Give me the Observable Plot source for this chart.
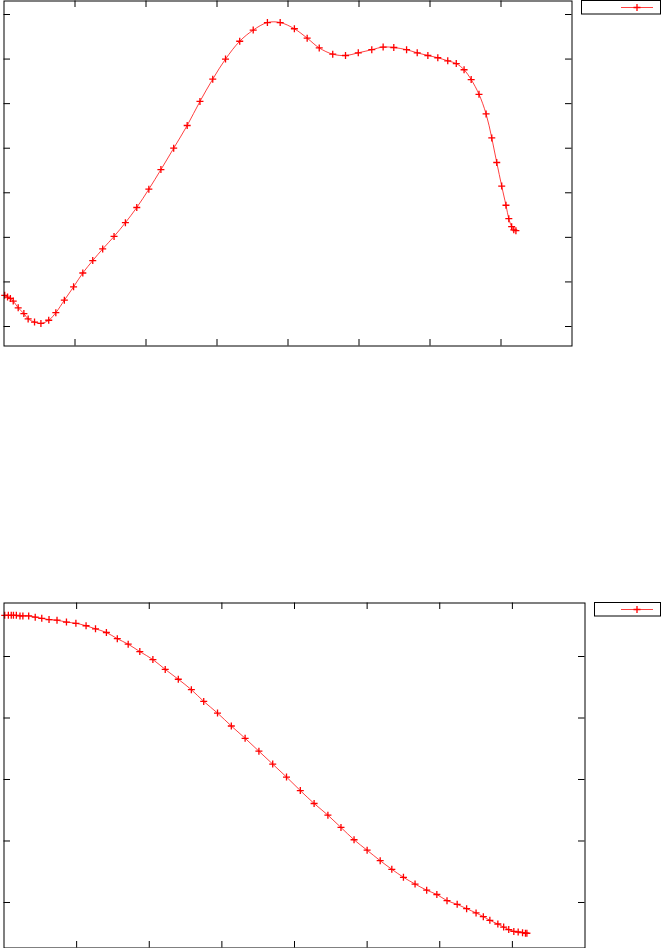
<!DOCTYPE html>
<html><head><meta charset="utf-8">
<script src="https://cdn.jsdelivr.net/npm/d3@7"></script>
<script src="https://cdn.jsdelivr.net/npm/@observablehq/plot@0.6"></script>
<style>
body{margin:0;background:#fff;}
#wrap{position:relative;width:661px;height:948px;overflow:hidden;}
#wrap > div, #wrap > svg{position:absolute;}
</style></head><body><div id="wrap"></div>
<script>
// tick positions (no labels in the reference)
const xTicks = [1, 2, 3, 4, 5, 6, 7];
const topYTicks = [0, 1, 2, 3, 4, 5, 6, 7];
const bottomYTicks = [0, 1, 2, 3, 4];

// upper panel series
const topX = [0.01,0.05,0.09,0.13,0.20,0.28,0.34,0.43,0.52,0.63,0.73,0.85,0.98,1.11,1.25,1.39,1.55,1.71,1.87,2.04,2.21,2.39,2.58,2.76,2.94,3.12,3.32,3.51,3.71,3.89,4.09,4.27,4.44,4.63,4.81,4.99,5.18,5.34,5.49,5.67,5.82,5.97,6.11,6.25,6.37,6.48,6.58,6.69,6.79,6.87,6.94,7.01,7.07,7.11,7.15,7.18,7.21];
const topY = [0.70,0.66,0.63,0.57,0.42,0.29,0.17,0.10,0.07,0.14,0.31,0.59,0.89,1.20,1.48,1.74,2.02,2.33,2.67,3.08,3.52,4.00,4.51,5.05,5.55,6.00,6.40,6.65,6.82,6.82,6.68,6.47,6.25,6.11,6.08,6.14,6.21,6.27,6.26,6.21,6.14,6.08,6.03,5.96,5.90,5.76,5.54,5.21,4.77,4.23,3.68,3.15,2.72,2.42,2.24,2.17,2.15];

// lower panel series
const bottomX = [0.01,0.06,0.10,0.13,0.17,0.22,0.26,0.34,0.43,0.52,0.62,0.73,0.86,0.99,1.13,1.26,1.41,1.56,1.71,1.87,2.05,2.22,2.40,2.58,2.75,2.94,3.13,3.32,3.51,3.70,3.89,4.08,4.27,4.46,4.64,4.82,5.00,5.18,5.34,5.50,5.66,5.82,5.96,6.10,6.24,6.37,6.50,6.60,6.69,6.80,6.88,6.95,7.02,7.08,7.14,7.18,7.20];
const bottomY = [4.67,4.67,4.67,4.67,4.67,4.66,4.66,4.66,4.64,4.62,4.60,4.59,4.56,4.54,4.50,4.45,4.39,4.29,4.20,4.08,3.95,3.79,3.63,3.46,3.27,3.08,2.87,2.67,2.46,2.25,2.04,1.82,1.61,1.42,1.22,1.02,0.85,0.68,0.54,0.41,0.30,0.20,0.13,0.03,-0.03,-0.10,-0.17,-0.23,-0.29,-0.35,-0.40,-0.44,-0.47,-0.48,-0.49,-0.50,-0.50];

const W = 661;
const RED = "#ff0000";
const plusSymbol = {
  draw(ctx, size) {
    const r = Math.sqrt(size / Math.PI);
    ctx.moveTo(-r, 0); ctx.lineTo(r, 0);
    ctx.moveTo(0, -r); ctx.lineTo(0, r);
  }
};

function panel({xs, ys, yTicks, xDomain, yDomain, height, mt, mb, ml, mr, tick}) {
  const data = xs.map((x, i) => ({x, y: ys[i]}));
  const ph = height - mt - mb, pw = W - ml - mr;
  return Plot.plot({
    width: W, height,
    marginTop: mt, marginBottom: mb, marginLeft: ml, marginRight: mr,
    x: {domain: xDomain, axis: null},
    y: {domain: yDomain, axis: null},
    style: {background: "transparent", overflow: "visible"},
    marks: [
      Plot.tickX(xTicks, {x: d => d, insetTop: ph - tick, stroke: "#000"}),
      Plot.tickX(xTicks, {x: d => d, insetBottom: ph - tick, stroke: "#000"}),
      Plot.tickY(yTicks, {y: d => d, insetRight: pw - tick, stroke: "#000"}),
      Plot.tickY(yTicks, {y: d => d, insetLeft: pw - tick, stroke: "#000"}),
      Plot.line(data, {x: "x", y: "y", stroke: RED, strokeWidth: 1, strokeOpacity: 0.75, curve: "catmull-rom"}),
      Plot.dot(data, {x: "x", y: "y", symbol: plusSymbol, r: 3.5, stroke: RED, strokeWidth: 1.3, fill: "none"}),
      Plot.frame({stroke: "#000", strokeWidth: 1})
    ]
  });
}

function legend(top, left) {
  const w = W - left, h = 15;
  const svg = d3.create("svg").attr("width", w).attr("height", h)
    .style("position", "absolute").style("left", left + "px").style("top", top + "px");
  svg.append("rect").attr("x", 0.5).attr("y", 0.5).attr("width", w - 1).attr("height", h - 1.5)
    .attr("fill", "none").attr("stroke", "#000");
  svg.append("line").attr("x1", 621 - left).attr("x2", 653 - left).attr("y1", 7.5).attr("y2", 7.5)
    .attr("stroke", RED).attr("stroke-opacity", 0.75);
  svg.append("path").attr("d", `M${637 - left - 3.5},7.5h7M${637 - left},4v7`)
    .attr("stroke", RED).attr("stroke-width", 1.3).attr("fill", "none");
  return svg.node();
}

const wrap = document.getElementById("wrap");

const topPlot = panel({
  xs: topX, ys: topY, yTicks: topYTicks,
  xDomain: [0, 8], yDomain: [-0.4375, 7.303],
  height: 347, mt: 0.5, mb: 1.5, ml: 3.5, mr: 89.5, tick: 6.5
});
topPlot.style.position = "absolute"; topPlot.style.left = "0px"; topPlot.style.top = "0px";
wrap.appendChild(topPlot);
wrap.appendChild(legend(0, 581));

const bottomPlot = panel({
  xs: bottomX, ys: bottomY, yTicks: bottomYTicks,
  xDomain: [0, 8], yDomain: [-0.740, 4.870],
  height: 347, mt: 1.5, mb: 0.5, ml: 3.5, mr: 76.5, tick: 6.5
});
bottomPlot.style.position = "absolute"; bottomPlot.style.left = "0px"; bottomPlot.style.top = "601px";
wrap.appendChild(bottomPlot);
wrap.appendChild(legend(602, 594));
</script>
</body></html>
